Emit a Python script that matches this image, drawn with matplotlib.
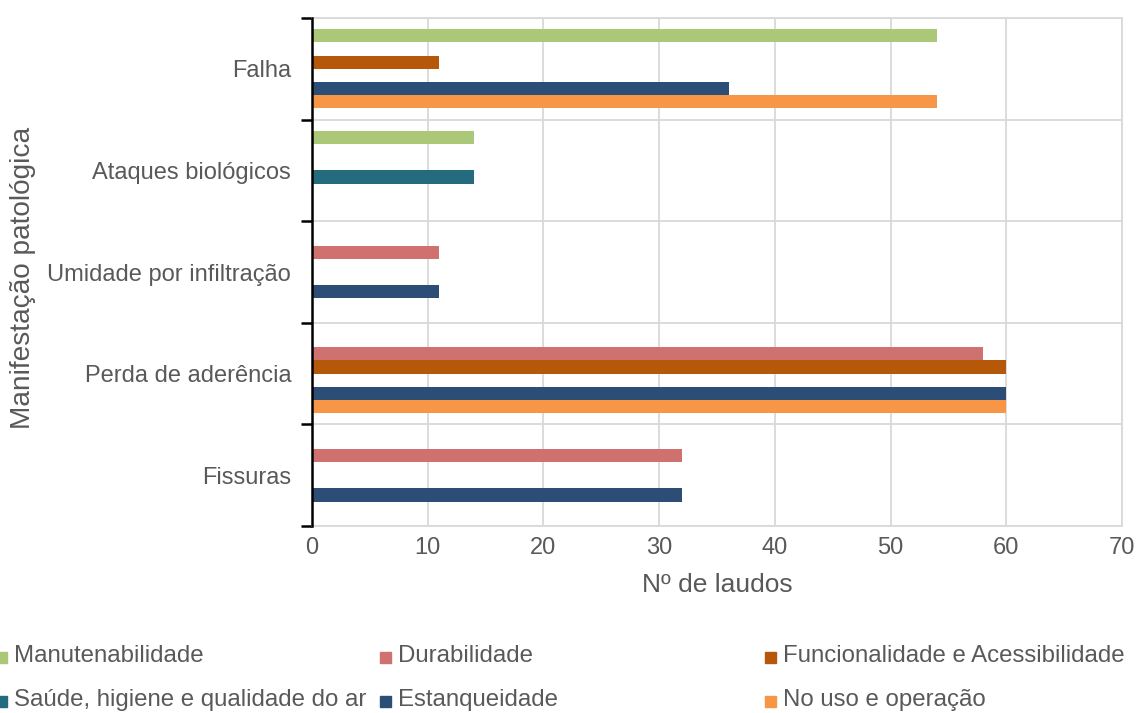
import matplotlib
matplotlib.use("Agg")
import matplotlib.pyplot as plt
from matplotlib.patches import Rectangle
import numpy as np

plt.rcParams['font.family'] = ['Liberation Sans', 'DejaVu Sans']

# Categories listed bottom to top
categories = ["Fissuras", "Perda de aderência", "Umidade por infiltração",
              "Ataques biológicos", "Falha"]

series_names = ["Manutenabilidade", "Durabilidade", "Funcionalidade e Acessibilidade",
                "Saúde, higiene e qualidade do ar", "Estanqueidade", "No uso e operação"]

manutenabilidade = [0, 0, 0, 14, 54]
durabilidade = [32, 58, 11, 0, 0]
funcionalidade = [0, 60, 0, 0, 11]
saude = [0, 0, 0, 14, 0]
estanqueidade = [32, 60, 11, 0, 36]
no_uso = [0, 60, 0, 0, 54]

series_values = [manutenabilidade, durabilidade, funcionalidade,
                 saude, estanqueidade, no_uso]
colors = ["#ABC878", "#CF716E", "#B5580A", "#256B7E", "#2C4D76", "#F79646"]

x_ticks = [0, 10, 20, 30, 40, 50, 60, 70]

fig = plt.figure(figsize=(11.38, 7.13), dpi=100)
ax = fig.add_axes([312 / 1138, 1 - 526 / 713, (1122 - 312) / 1138, (526 - 18) / 713])

bar_h = 0.13
y = np.arange(len(categories))
for i, (vals, col) in enumerate(zip(series_values, colors)):
    offset = (2.5 - i) * bar_h
    ax.barh(y + offset, vals, height=bar_h, color=col, edgecolor='none', zorder=3)

ax.set_xlim(0, 70)
ax.set_ylim(-0.5, len(categories) - 0.5)
ax.set_xticks(x_ticks)
ax.set_yticks(y)
ax.set_yticklabels(categories)
ax.set_yticks(np.arange(-0.5, len(categories)), minor=True)

grid_col = "#D9D9D9"
ax.grid(axis='x', which='major', color=grid_col, linewidth=1.3, zorder=0)
ax.grid(axis='y', which='minor', color=grid_col, linewidth=1.3, zorder=0)
ax.grid(axis='y', which='major', visible=False)

for s in ['top', 'right', 'bottom']:
    ax.spines[s].set_color(grid_col)
    ax.spines[s].set_linewidth(1.3)
ax.spines['left'].set_color('black')
ax.spines['left'].set_linewidth(1.8)
ax.spines['left'].set_zorder(4)

text_col = "#595959"
ax.tick_params(axis='x', which='both', length=0, labelsize=17, labelcolor=text_col, pad=8)
ax.tick_params(axis='y', which='major', length=0, labelsize=17, labelcolor=text_col, pad=15)
ax.tick_params(axis='y', which='minor', length=8, width=1.8, color='black', direction='out')

ax.set_xlabel("Nº de laudos", fontsize=19, color=text_col, labelpad=10)
fig.text(23 / 1138, 1 - 278 / 713, "Manifestação patológica", rotation=90,
         ha='center', va='center', fontsize=20.2, color=text_col)

# Legend laid out in three columns, two rows
legend_order = [0, 3, 1, 4, 2, 5]
marker_x = [-4, 380, 765]
row_y = [656, 700]
marker_size = 11
for k, idx in enumerate(legend_order):
    mx = marker_x[k // 2]
    cy = row_y[k % 2]
    fig.patches.append(Rectangle((mx / 1138, 1 - (cy + 7) / 713),
                                 marker_size / 1138, marker_size / 713,
                                 transform=fig.transFigure, color=colors[idx]))
    fig.text((mx + 18) / 1138, 1 - cy / 713, series_names[idx], ha='left', va='center',
             fontsize=17.3, color=text_col)

fig.savefig("out.png", dpi=100, facecolor='white')
